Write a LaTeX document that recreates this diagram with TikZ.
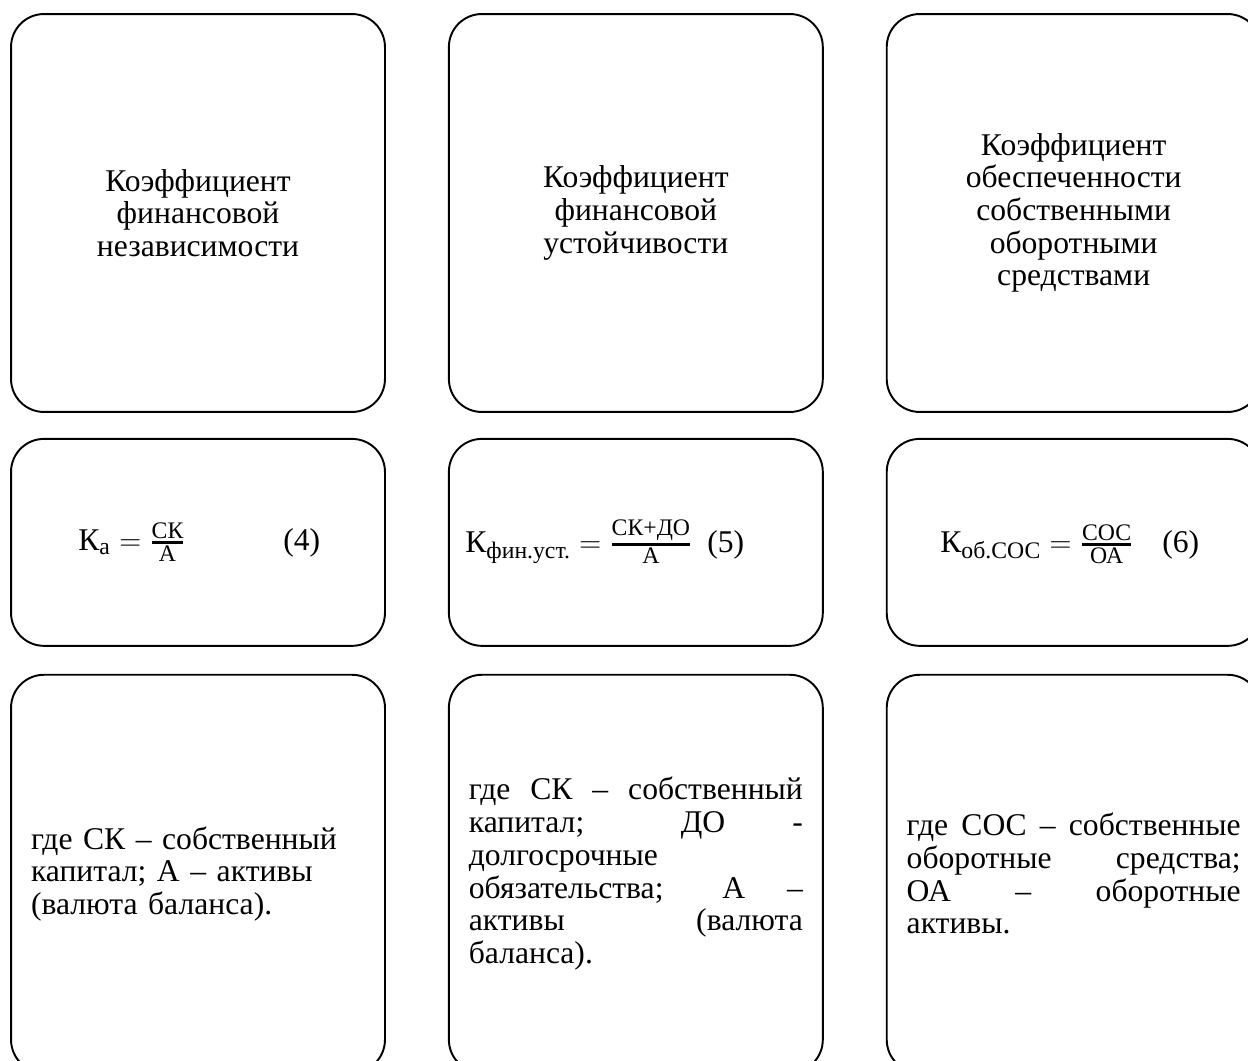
\documentclass[tikz,border=0pt]{standalone}
\usepackage{amsmath}
\usepackage{fontspec}
\setmainfont{Liberation Serif}
\usepackage{tikz}
\usetikzlibrary{positioning}
\DeclareMathSizes{18}{18}{13.5}{10}
\tikzstyle{titlecard} = [rectangle, rounded corners=0.66cm,
    minimum width=7.48cm, minimum height=7.96cm, align=center,
    draw=black, line width=1.1pt, font=\fontsize{18}{18.6}\selectfont]
\tikzstyle{formcard} = [titlecard, minimum height=4.14cm]
\tikzstyle{notecard} = [titlecard, text width=6.68cm, align=left]
\tikzstyle{formula} = [anchor=base west, inner sep=0pt, font=\fontsize{18}{18.6}\selectfont]
\newcommand{\jline}[1]{{\spaceskip=0pt\xspaceskip=0pt\makebox[6.68cm][s]{#1}}}
\newcommand{\ratio}[2]{\genfrac{}{}{1.3pt}{1}{\text{#1}}{\text{#2}}}

\begin{document}
\begin{tikzpicture}[x=0.02cm, y=-0.02cm]
    \useasboundingbox (0,0) rectangle (1248,1061);
    \clip (0,0) rectangle (1248,1061);
        % top row: names of the ratios
        \node (indep) [titlecard] at (198,213) {Коэффициент\\финансовой\\независимости};
        \node (stab) [titlecard, right=1.24cm of indep] {Коэффициент\\финансовой\\устойчивости};
        \node (cover) [titlecard, right=1.24cm of stab] {Коэффициент\\обеспеченности\\собственными\\оборотными\\средствами};
        % middle row: formulas
        \node (indepF) [formcard, below=0.5cm of indep] {};
        \node (stabF) [formcard, below=0.5cm of stab] {};
        \node (coverF) [formcard, below=0.5cm of cover] {};
        \node (fa) [formula] at (78,550) {$\text{К}_{\text{а}} = \ratio{СК}{А}$};
        \node (na) [formula] at (283,550) {(4)};
        \node (fb) [formula] at (465,552) {$\text{К}_{\text{фин.уст.}} = \ratio{СК+ДО}{А}$};
        \node (nb) [formula] at (707,552) {(5)};
        \node (fc) [formula] at (940,552) {$\text{К}_{\text{об.СОС}} = \ratio{СОС}{ОА}$};
        \node (nc) [formula] at (1162,552) {(6)};
        % bottom row: notes
        \node (indepN) [notecard, below=0.54cm of indepF] {где СК – собственный\\капитал; А – активы\\(валюта баланса).};
        \node (stabN) [notecard, below=0.54cm of stabF] {\jline{где СК – собственный}\\\jline{капитал; ДО -}\\долгосрочные\\\jline{обязательства; А –}\\\jline{активы (валюта}\\баланса).};
        \node (coverN) [notecard, below=0.54cm of coverF] {\jline{где СОС – собственные}\\\jline{оборотные средства;}\\\jline{ОА – оборотные}\\активы.};
    \end{tikzpicture}
\end{document}
